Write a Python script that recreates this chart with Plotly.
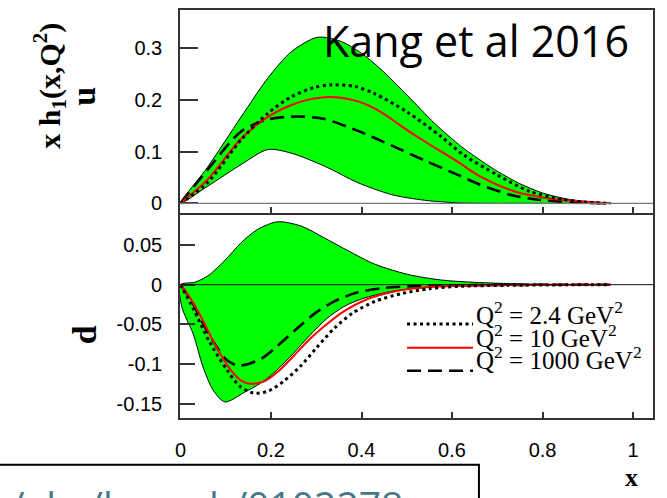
import plotly.graph_objects as go
from plotly.subplots import make_subplots

# ---------------- data ----------------
# upper panel: u quark, x*h1(x,Q^2)
u_band_hi_x = [0, 0.06, 0.134, 0.193, 0.245, 0.303, 0.355, 0.40, 0.443, 0.502, 0.561, 0.62, 0.65, 0.70, 0.75, 0.80, 0.85, 0.90, 0.95]
u_band_hi_y = [0, 0.07, 0.167, 0.242, 0.293, 0.321, 0.313, 0.29, 0.259, 0.208, 0.155, 0.110, 0.091, 0.062, 0.038, 0.02, 0.009, 0.003, 0]
u_band_lo_x = [0, 0.06, 0.134, 0.193, 0.245, 0.318, 0.392, 0.466, 0.539, 0.613, 0.68, 0.75, 0.95]
u_band_lo_y = [0, 0.033, 0.075, 0.104, 0.097, 0.072, 0.04, 0.017, 0.006, 0.001, 0, 0, 0]

u_q24_x = [0, 0.06, 0.134, 0.193, 0.245, 0.296, 0.333, 0.385, 0.429, 0.502, 0.576, 0.625, 0.70, 0.772, 0.846, 0.90, 0.95]
u_q24_y = [0, 0.04, 0.123, 0.174, 0.206, 0.224, 0.229, 0.226, 0.212, 0.176, 0.129, 0.094, 0.055, 0.023, 0.007, 0.002, 0]
u_q10_x = [0, 0.06, 0.134, 0.193, 0.245, 0.28, 0.318, 0.355, 0.392, 0.43, 0.466, 0.50, 0.539, 0.613, 0.662, 0.735, 0.81, 0.884, 0.95]
u_q10_y = [0, 0.046, 0.125, 0.167, 0.19, 0.200, 0.205, 0.204, 0.197, 0.183, 0.163, 0.142, 0.12, 0.08, 0.052, 0.024, 0.010, 0.004, 0]
u_q1000_x = [0, 0.06, 0.134, 0.193, 0.259, 0.318, 0.392, 0.466, 0.539, 0.613, 0.662, 0.735, 0.79, 0.86, 0.95]
u_q1000_y = [0, 0.065, 0.139, 0.162, 0.168, 0.163, 0.14, 0.112, 0.083, 0.055, 0.036, 0.015, 0.007, 0.002, 0]

# lower panel: d quark
d_band_hi_x = [0, 0.031, 0.06, 0.097, 0.134, 0.171, 0.215, 0.267, 0.318, 0.37, 0.429, 0.502, 0.575, 0.65, 0.75, 0.85, 0.95]
d_band_hi_y = [0, 0.003, 0.011, 0.030, 0.053, 0.070, 0.0795, 0.074, 0.059, 0.043, 0.026, 0.013, 0.006, 0.003, 0.001, 0.0003, 0]
d_band_lo_x = [0, 0.003, 0.028, 0.05, 0.072, 0.098, 0.141, 0.178, 0.213, 0.249, 0.286, 0.323, 0.36, 0.40, 0.47, 0.55, 0.65, 0.75, 0.95]
d_band_lo_y = [0, -0.028, -0.062, -0.104, -0.133, -0.148, -0.136, -0.124, -0.108, -0.087, -0.064, -0.043, -0.028, -0.018, -0.008, -0.003, -0.001, 0, 0]

d_q24_x = [0, 0.028, 0.065, 0.102, 0.131, 0.163, 0.195, 0.23, 0.265, 0.30, 0.34, 0.38, 0.43, 0.49, 0.55, 0.62, 0.72, 0.85, 0.95]
d_q24_y = [0, -0.03, -0.073, -0.107, -0.128, -0.137, -0.134, -0.121, -0.103, -0.08, -0.055, -0.036, -0.021, -0.011, -0.005, -0.002, -0.0008, -0.0002, 0]
d_q10_x = [0, 0.024, 0.046, 0.075, 0.105, 0.134, 0.155, 0.185, 0.215, 0.25, 0.287, 0.323, 0.36, 0.41, 0.47, 0.53, 0.6, 0.7, 0.85, 0.95]
d_q10_y = [0, -0.019, -0.041, -0.074, -0.103, -0.121, -0.125, -0.122, -0.11, -0.09, -0.068, -0.05, -0.034, -0.019, -0.009, -0.004, -0.0017, -0.0006, -0.0002, 0]
d_q1000_x = [0, 0.024, 0.046, 0.075, 0.1, 0.125, 0.15, 0.18, 0.215, 0.26, 0.3, 0.34, 0.39, 0.45, 0.53, 0.65, 0.8, 0.95]
d_q1000_y = [0, -0.02, -0.045, -0.074, -0.094, -0.102, -0.1, -0.093, -0.077, -0.054, -0.035, -0.021, -0.01, -0.004, -0.0015, -0.0005, -0.0001, 0]

x_ticks = [0, 0.2, 0.4, 0.6, 0.8, 1]
x_ticklabels = ["0", "0.2", "0.4", "0.6", "0.8", "1"]
u_ticks = [0, 0.1, 0.2, 0.3]
u_ticklabels = ["0", "0.1", "0.2", "0.3"]
d_ticks = [-0.15, -0.1, -0.05, 0, 0.05]
d_ticklabels = ["-0.15", "-0.1", "-0.05", "0", "0.05"]

legend_labels = ["Q<sup>2</sup> = 2.4 GeV<sup>2</sup>",
                 "Q<sup>2</sup> = 10 GeV<sup>2</sup>",
                 "Q<sup>2</sup> = 1000 GeV<sup>2</sup>"]

# ---------------- styles ----------------
GREEN = "#00ff00"
STY = [dict(color="black", width=3, dash="3px,3.5px"),
       dict(color="#ff0000", width=2),
       dict(color="black", width=2.6, dash="14px,7px")]

fig = make_subplots(rows=2, cols=1, shared_xaxes=True, vertical_spacing=0,
                    row_heights=[0.4976, 0.5024])

def band(hx, hy, lx, ly, row):
    fig.add_trace(go.Scatter(x=hx + lx[::-1][1:], y=hy + ly[::-1][1:],
                             fill="toself", fillcolor=GREEN, mode="lines",
                             line=dict(color="black", width=1, shape="spline", smoothing=0.8),
                             showlegend=False, hoverinfo="skip"), row=row, col=1)

band(u_band_hi_x, u_band_hi_y, u_band_lo_x, u_band_lo_y, 1)
band(d_band_hi_x, d_band_hi_y, d_band_lo_x, d_band_lo_y, 2)

for row, curves in [(1, [(u_q1000_x, u_q1000_y, 2), (u_q10_x, u_q10_y, 1), (u_q24_x, u_q24_y, 0)]),
                    (2, [(d_q1000_x, d_q1000_y, 2), (d_q10_x, d_q10_y, 1), (d_q24_x, d_q24_y, 0)])]:
    for xs, ys, k in curves:
        st = dict(STY[k])
        fig.add_trace(go.Scatter(x=xs, y=ys, mode="lines",
                                 line=dict(**st, shape="spline", smoothing=0.8),
                                 showlegend=False, hoverinfo="skip"), row=row, col=1)

AX = dict(showline=True, linecolor="#333", linewidth=1.6, mirror=True,
          showgrid=False, zeroline=False, ticks="inside", tickcolor="#333",
          tickwidth=1.5, tickfont=dict(family="Liberation Sans, Arial", size=20, color="black"))

fig.update_xaxes(**AX, range=[-0.001, 1.044], tickvals=x_ticks, ticktext=x_ticklabels,
                 ticklen=6)
fig.update_xaxes(showticklabels=False, row=1, col=1)
fig.update_xaxes(ticklabelstandoff=13, row=2, col=1)
fig.update_yaxes(**AX)
fig.update_yaxes(range=[-0.0187, 0.3737], tickvals=u_ticks, ticktext=u_ticklabels,
                 ticklen=18, ticklabelstandoff=12, domain=[0.5024, 1], row=1, col=1)
fig.update_yaxes(range=[-0.1683, 0.0885], tickvals=d_ticks, ticktext=d_ticklabels,
                 ticklen=15, ticklabelstandoff=12, domain=[0, 0.4985], row=2, col=1)

shapes = [
    dict(type="line", xref="x2 domain", yref="y", x0=0, x1=1, y0=0, y1=0,
         line=dict(color="#777", width=1.2), layer="above"),
    dict(type="line", xref="x2 domain", yref="y2", x0=0, x1=1, y0=0, y1=0,
         line=dict(color="#111", width=1), layer="above"),
]
leg_y = [0.2305, 0.172, 0.1159]
for k in range(3):
    st = STY[k]
    shapes.append(dict(type="line", xref="paper", yref="paper", x0=0.48, x1=0.6195,
                       y0=leg_y[k], y1=leg_y[k],
                       line=dict(color=st["color"], width=st["width"], dash=st.get("dash", "solid"))))
# link box at the bottom
shapes.append(dict(type="rect", xref="paper", yref="paper", x0=-0.40, x1=0.632,
                   y0=-0.23, y1=-0.1146, line=dict(color="black", width=2),
                   fillcolor="white", layer="above"))

serif = "Liberation Serif, Times New Roman, serif"
C = dict(xanchor="center", yanchor="middle", showarrow=False, xref="paper", yref="paper")
annotations = [
    dict(text="<b>x h<sub>1</sub>(x,Q<sup>2</sup>)</b>", x=-0.2748, y=0.8146, textangle=-90,
         font=dict(family=serif, size=30, color="black"), **C),
    dict(text="<b>u</b>", x=-0.2030, y=0.790, textangle=-90,
         font=dict(family=serif, size=34, color="black"), **C),
    dict(text="<b>d</b>", x=-0.2030, y=0.205, textangle=-90,
         font=dict(family=serif, size=34, color="black"), **C),
    dict(text="<b>x</b>", x=0.9556, y=-0.146,
         font=dict(family=serif, size=26, color="black"), **C),
    dict(text="Kang et al 2016", x=0.626, y=0.925,
         font=dict(family="Open Sans", size=43, color="black"), **C),
    dict(text="https://arxiv.org/abs/hep-ph/0102278", xref="paper", yref="paper",
         x=0.4757, y=-0.1415, xanchor="right", yanchor="top", showarrow=False,
         font=dict(family="Open Sans", size=39, color="#467886")),
]
leg_text_y = [0.257, 0.200, 0.147]
for k in range(3):
    annotations.append(dict(text=legend_labels[k], xref="paper", yref="paper",
                            x=0.6216, y=leg_text_y[k], xanchor="left", yanchor="middle",
                            showarrow=False, font=dict(family=serif, size=25, color="black")))

fig.update_layout(width=667, height=498, margin=dict(l=180, r=14, t=8, b=80),
                  paper_bgcolor="white", plot_bgcolor="white", showlegend=False,
                  shapes=shapes, annotations=annotations)

fig.write_html("out.html")
